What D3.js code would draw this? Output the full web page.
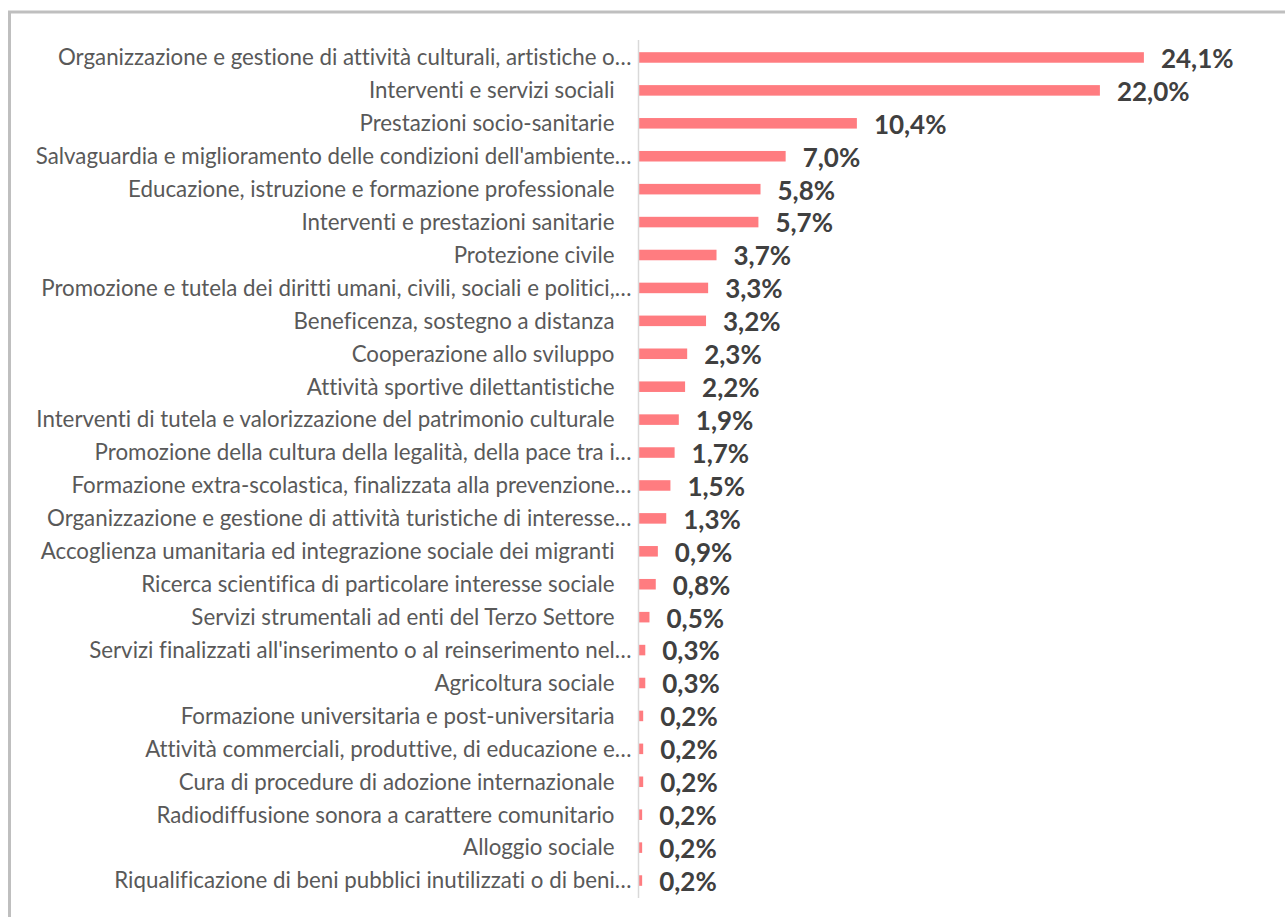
<!DOCTYPE html>
<html>
<head>
<meta charset="utf-8">
<script src="https://cdn.jsdelivr.net/npm/d3@7"></script>
<style>
  html, body { margin: 0; padding: 0; background: #fff; }
  svg { display: block; }
  text { font-variant-ligatures: none; font-feature-settings: "liga" 0, "clig" 0; }
</style>
</head>
<body>
<script>
const categories = [
  "Organizzazione e gestione di attività culturali, artistiche o…",
  "Interventi e servizi sociali",
  "Prestazioni socio-sanitarie",
  "Salvaguardia e miglioramento delle condizioni dell'ambiente…",
  "Educazione, istruzione e formazione professionale",
  "Interventi e prestazioni sanitarie",
  "Protezione civile",
  "Promozione e tutela dei diritti umani, civili, sociali e politici,…",
  "Beneficenza, sostegno a distanza",
  "Cooperazione allo sviluppo",
  "Attività sportive dilettantistiche",
  "Interventi di tutela e valorizzazione del patrimonio culturale",
  "Promozione della cultura della legalità, della pace tra i…",
  "Formazione extra-scolastica, finalizzata alla prevenzione…",
  "Organizzazione e gestione di attività turistiche di interesse…",
  "Accoglienza umanitaria ed integrazione sociale dei migranti",
  "Ricerca scientifica di particolare interesse sociale",
  "Servizi strumentali ad enti del Terzo Settore",
  "Servizi finalizzati all'inserimento o al reinserimento nel…",
  "Agricoltura sociale",
  "Formazione universitaria e post-universitaria",
  "Attività commerciali, produttive, di educazione e…",
  "Cura di procedure di adozione internazionale",
  "Radiodiffusione sonora a carattere comunitario",
  "Alloggio sociale",
  "Riqualificazione di beni pubblici inutilizzati o di beni…"
];
const values = [24.1, 22.0, 10.4, 7.0, 5.8, 5.7, 3.7, 3.3, 3.2, 2.3, 2.2, 1.9, 1.7, 1.5, 1.3, 0.9, 0.8, 0.5, 0.3, 0.3, 0.2, 0.2, 0.2, 0.15, 0.15, 0.15];
const valueLabels = ["24,1%", "22,0%", "10,4%", "7,0%", "5,8%", "5,7%", "3,7%", "3,3%", "3,2%", "2,3%", "2,2%", "1,9%", "1,7%", "1,5%", "1,3%", "0,9%", "0,8%", "0,5%", "0,3%", "0,3%", "0,2%", "0,2%", "0,2%", "0,2%", "0,2%", "0,2%"];

const W = 1285, H = 917;
const svg = d3.select("body").append("svg").attr("width", W).attr("height", H);

// chart frame
svg.append("rect").attr("x", 9.5).attr("y", 12).attr("width", W + 20).attr("height", H + 20)
  .attr("fill", "none").attr("stroke", "#bfbfbf").attr("stroke-width", 3);

const x = d3.scaleLinear().domain([0, 30]).range([639, 639 + 30 * 20.95]);
const y = d3.scaleBand().domain(categories).range([41, 897]).paddingInner(0.68).paddingOuter(0.34);

const data = categories.map((c, i) => ({ c, v: values[i], l: valueLabels[i] }));

// bars
svg.append("g").selectAll("rect").data(data).join("rect")
  .attr("x", x(0))
  .attr("y", d => y(d.c))
  .attr("width", d => x(d.v) - x(0))
  .attr("height", y.bandwidth())
  .attr("fill", "#ff7c80");

// axis line
const yAxis = d3.axisLeft(y).tickSize(0).tickPadding(7);
const ga = svg.append("g").attr("transform", `translate(${x(0) - 0.5},0)`).call(yAxis);
ga.select(".domain").attr("stroke", "#d9d9d9").attr("stroke-width", 1.5)
  .attr("d", `M0,40V898`);
ga.selectAll(".tick text")
  .attr("font-family", "Lato, 'Open Sans', sans-serif")
  .attr("font-size", "22.3px")
  .attr("fill", "#595959")
  .attr("x", d => d.endsWith("…") ? -7 : -24)
  .attr("dy", "0.35em");

// value labels
svg.append("g").selectAll("text").data(data).join("text")
  .attr("x", d => x(d.v) + 17)
  .attr("y", d => y(d.c) + y.bandwidth() / 2)
  .attr("dy", "0.4em")
  .attr("font-family", "Lato, 'Open Sans', sans-serif")
  .attr("font-weight", "bold")
  .attr("font-size", "26px")
  .attr("fill", "#404040")
  .text(d => d.l);
</script>
</body>
</html>
